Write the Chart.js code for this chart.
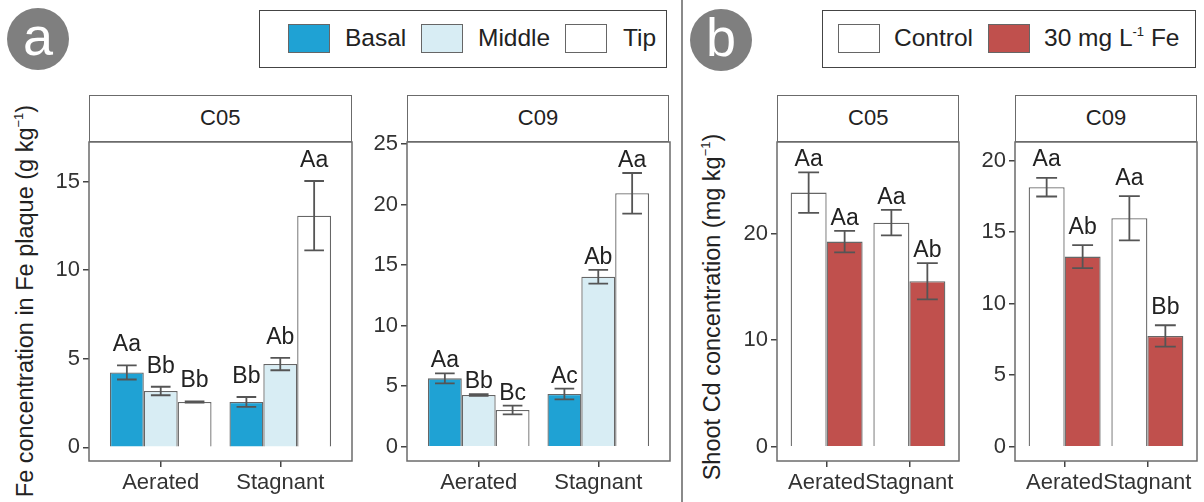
<!DOCTYPE html>
<html>
<head>
<meta charset="utf-8">
<script src="https://cdn.jsdelivr.net/npm/chart.js@4.4.1/dist/chart.umd.min.js"></script>
<style>
  body { margin: 0; background: #fff; font-family: "Liberation Sans", Arial, sans-serif; color: #222; }
  #page { position: relative; width: 1204px; height: 502px; overflow: hidden; }
  canvas { position: absolute; }
  .tag { position: absolute; width: 62px; height: 62px; border-radius: 50%; background: #7f7f7f; color: #fff;
         font-size: 54px; line-height: 57px; text-align: center; }
  .legend { position: absolute; top: 10px; height: 58px; border: 1.5px solid #444; box-sizing: border-box; }
  .key { position: absolute; top: 12.5px; width: 42px; height: 29px; border: 1.3px solid #666; box-sizing: border-box; }
  .ltext { position: absolute; top: 12px; font-size: 24.5px; line-height: 29px; color: #222; white-space: nowrap; }
  .strip { position: absolute; top: 95px; height: 47px; border: 1.5px solid #6b6b6b; box-sizing: border-box;
           background: #fff; font-size: 22px; line-height: 44px; text-align: center; color: #222; }
  .ytitle { position: absolute; font-size: 23.5px; white-space: nowrap; color: #222;
            transform: translate(-50%, -50%) rotate(-90deg); }
  .ytitle sup, .ltext sup { font-size: 13px; vertical-align: 10px; line-height: 0; }
  #divider { position: absolute; left: 681px; top: 0; width: 1.5px; height: 502px; background: #8a8a8a; }
</style>
</head>
<body>
<div id="page">
  <div class="tag" style="left:7px; top:8px;">a</div>
  <div class="tag" style="left:690px; top:9px;">b</div>
  <div id="divider"></div>

  <div class="legend" style="left:259px; width:408px;">
    <div class="key" style="left:28px; background:#1fa2d4;"></div>
    <div class="ltext" style="left:85px;">Basal</div>
    <div class="key" style="left:161px; background:#d8edf4;"></div>
    <div class="ltext" style="left:218px;">Middle</div>
    <div class="key" style="left:305px; background:#ffffff;"></div>
    <div class="ltext" style="left:363px;">Tip</div>
  </div>
  <div class="legend" style="left:822px; width:374px;">
    <div class="key" style="left:15px; background:#ffffff;"></div>
    <div class="ltext" style="left:71px;">Control</div>
    <div class="key" style="left:165px; background:#c0504d;"></div>
    <div class="ltext" style="left:221px;">30 mg L<sup>-1</sup> Fe</div>
  </div>

  <div class="ytitle" style="left:25px; top:301px;">Fe concentration in Fe plaque (g kg<sup>−1</sup>)</div>
  <div class="ytitle" style="left:712px; top:307px;">Shoot Cd concentration (mg kg<sup>−1</sup>)</div>
</div>

<script>
const groups = ['Aerated', 'Stagnant'];

// panel a: Fe plaque, g/kg
const partNames = ['Basal', 'Middle', 'Tip'];
const plaqueC05Basal = [4.23, 2.56];
const plaqueC05Middle = [3.18, 4.70];
const plaqueC05Tip = [2.56, 13.07];
const plaqueC05BasalSe = [0.40, 0.28];
const plaqueC05MiddleSe = [0.24, 0.35];
const plaqueC05TipSe = [0.03, 1.96];
const plaqueC05BasalLetters = ['Aa', 'Bb'];
const plaqueC05MiddleLetters = ['Bb', 'Ab'];
const plaqueC05TipLetters = ['Bb', 'Aa'];

const plaqueC09Basal = [5.65, 4.36];
const plaqueC09Middle = [4.27, 14.05];
const plaqueC09Tip = [3.03, 20.94];
const plaqueC09BasalSe = [0.41, 0.44];
const plaqueC09MiddleSe = [0.07, 0.57];
const plaqueC09TipSe = [0.36, 1.68];
const plaqueC09BasalLetters = ['Aa', 'Ac'];
const plaqueC09MiddleLetters = ['Bb', 'Ab'];
const plaqueC09TipLetters = ['Bc', 'Aa'];

// panel b: shoot Cd, mg/kg
const treatNames = ['Control', '30 mg L-1 Fe'];
const shootC05Control = [23.85, 21.03];
const shootC05Fe = [19.25, 15.53];
const shootC05ControlSe = [1.90, 1.20];
const shootC05FeSe = [1.00, 1.70];
const shootC05ControlLetters = ['Aa', 'Aa'];
const shootC05FeLetters = ['Aa', 'Ab'];

const shootC09Control = [18.14, 15.97];
const shootC09Fe = [13.29, 7.74];
const shootC09ControlSe = [0.65, 1.55];
const shootC09FeSe = [0.80, 0.75];
const shootC09ControlLetters = ['Aa', 'Aa'];
const shootC09FeLetters = ['Ab', 'Bb'];

const plaqueC05Ticks = [0, 5, 10, 15];
const plaqueC09Ticks = [0, 5, 10, 15, 20, 25];
const shootC05Ticks = [0, 10, 20];
const shootC09Ticks = [0, 5, 10, 15, 20];

const FONT = '"Liberation Sans", Arial, sans-serif';
const BORDER = '#6b6b6b';

const errorBars = {
    id: 'errorBars',
    afterDatasetsDraw(chart, args, opts) {
        const ctx = chart.ctx;
        const y = chart.scales.y;
        ctx.save();
        chart.data.datasets.forEach((ds, d) => {
            const meta = chart.getDatasetMeta(d);
            meta.data.forEach((bar, i) => {
                const v = ds.data[i].y, e = ds.se[i];
                const top = y.getPixelForValue(v + e);
                const bot = y.getPixelForValue(v - e);
                const cap = bar.width * 0.29;
                ctx.strokeStyle = '#555';
                ctx.lineWidth = 1.8;
                ctx.beginPath();
                ctx.moveTo(bar.x, top); ctx.lineTo(bar.x, bot);
                ctx.moveTo(bar.x - cap, top); ctx.lineTo(bar.x + cap, top);
                ctx.moveTo(bar.x - cap, bot); ctx.lineTo(bar.x + cap, bot);
                ctx.stroke();
                ctx.fillStyle = '#222';
                ctx.font = '23px ' + FONT;
                ctx.textAlign = 'center';
                ctx.textBaseline = 'alphabetic';
                ctx.fillText(ds.letters[i], bar.x, top - opts.gap);
            });
        });
        ctx.restore();
    }
};

const panelBorder = {
    id: 'panelBorder',
    afterDraw(chart) {
        const a = chart.chartArea, ctx = chart.ctx;
        ctx.save();
        ctx.strokeStyle = BORDER;
        ctx.lineWidth = 1.5;
        ctx.strokeRect(a.left, a.top, a.right - a.left, a.bottom - a.top);
        ctx.restore();
    }
};

function makePanel(name, area, yw, yMin, yMax, ticks, groupWidth, gap, sets) {
    const top = 118, right = 6;
    const canvas = document.createElement('canvas');
    const w = Math.round(area.r - area.l + yw + right), h = 502 - top;
    canvas.width = w; canvas.height = h;
    canvas.style.left = (area.l - yw) + 'px';
    canvas.style.top = top + 'px';
    canvas.style.width = w + 'px';
    canvas.style.height = h + 'px';
    document.getElementById('page').appendChild(canvas);

    const strip = document.createElement('div');
    strip.className = 'strip';
    strip.textContent = name;
    strip.style.left = area.l + 'px';
    strip.style.width = (area.r - area.l) + 'px';
    document.getElementById('page').appendChild(strip);

    return new Chart(canvas, {
        type: 'bar',
        data: {
            datasets: sets.map(s => ({
                label: s.label,
                data: s.values.map((v, i) => ({ x: i + 1, y: v })),
                se: s.se,
                letters: s.letters,
                backgroundColor: s.color,
                borderColor: '#666',
                borderWidth: 1.3,
                categoryPercentage: groupWidth,
                barPercentage: 1
            }))
        },
        options: {
            responsive: false,
            animation: false,
            layout: { padding: { top: area.t - top, right: right, left: 0, bottom: 0 } },
            plugins: { legend: { display: false }, tooltip: { enabled: false }, errorBars: { gap: gap } },
            scales: {
                x: {
                    type: 'linear', min: 0.4, max: 2.6, offset: false,
                    afterBuildTicks: s => { s.ticks = groups.map((g, i) => ({ value: i + 1 })); },
                    afterFit: s => { s.height = 502 - area.b; },
                    ticks: { callback: v => groups[v - 1], color: '#333', padding: 3, font: { family: FONT, size: 22 }, autoSkip: false, maxRotation: 0 },
                    grid: { offset: false, drawOnChartArea: false, drawTicks: true, tickLength: 6, color: '#444', lineWidth: 1.5 },
                    border: { display: false }
                },
                y: {
                    min: yMin, max: yMax,
                    afterBuildTicks: s => { s.ticks = ticks.map(t => ({ value: t })); },
                    afterFit: s => { s.width = yw; },
                    ticks: { color: '#333', padding: 3, font: { family: FONT, size: 22 } },
                    grid: { drawOnChartArea: false, drawTicks: true, tickLength: 6, color: '#444', lineWidth: 1.5 },
                    border: { display: false }
                }
            }
        },
        plugins: [errorBars, panelBorder]
    });
}

makePanel('C05', { l: 89, r: 351.5, t: 142, b: 461 }, 50, -0.77, 17.23, plaqueC05Ticks, 0.85, 14, [
    { label: partNames[0], values: plaqueC05Basal, se: plaqueC05BasalSe, letters: plaqueC05BasalLetters, color: '#1fa2d4' },
    { label: partNames[1], values: plaqueC05Middle, se: plaqueC05MiddleSe, letters: plaqueC05MiddleLetters, color: '#d8edf4' },
    { label: partNames[2], values: plaqueC05Tip, se: plaqueC05TipSe, letters: plaqueC05TipLetters, color: '#ffffff' }
]);
makePanel('C09', { l: 406.7, r: 669.3, t: 142, b: 461 }, 50, -1.18, 25.18, plaqueC09Ticks, 0.85, 6, [
    { label: partNames[0], values: plaqueC09Basal, se: plaqueC09BasalSe, letters: plaqueC09BasalLetters, color: '#1fa2d4' },
    { label: partNames[1], values: plaqueC09Middle, se: plaqueC09MiddleSe, letters: plaqueC09MiddleLetters, color: '#d8edf4' },
    { label: partNames[2], values: plaqueC09Tip, se: plaqueC09TipSe, letters: plaqueC09TipLetters, color: '#ffffff' }
]);
makePanel('C05', { l: 777.3, r: 959.3, t: 142, b: 461 }, 50, -1.34, 28.6, shootC05Ticks, 0.87, 6, [
    { label: treatNames[0], values: shootC05Control, se: shootC05ControlSe, letters: shootC05ControlLetters, color: '#ffffff' },
    { label: treatNames[1], values: shootC05Fe, se: shootC05FeSe, letters: shootC05FeLetters, color: '#c0504d' }
]);
makePanel('C09', { l: 1015, r: 1197, t: 142, b: 461 }, 50, -1.0, 21.3, shootC09Ticks, 0.87, 11.5, [
    { label: treatNames[0], values: shootC09Control, se: shootC09ControlSe, letters: shootC09ControlLetters, color: '#ffffff' },
    { label: treatNames[1], values: shootC09Fe, se: shootC09FeSe, letters: shootC09FeLetters, color: '#c0504d' }
]);
</script>
</body>
</html>
